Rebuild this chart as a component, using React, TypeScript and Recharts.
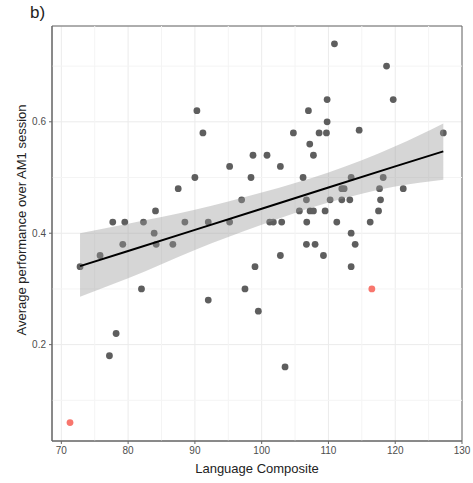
import { ComposedChart, Scatter, Area, Line, XAxis, YAxis, CartesianGrid, ReferenceLine, ReferenceArea } from "recharts";

// language composite vs average performance
const grayPoints = [
  { x: 90.3, y: 0.62 }, { x: 91.2, y: 0.58 }, { x: 95.2, y: 0.52 }, { x: 90.0, y: 0.5 },
  { x: 87.5, y: 0.48 }, { x: 84.1, y: 0.44 }, { x: 77.7, y: 0.42 }, { x: 79.5, y: 0.42 },
  { x: 82.3, y: 0.42 }, { x: 88.5, y: 0.42 }, { x: 92.0, y: 0.42 }, { x: 95.2, y: 0.42 },
  { x: 83.9, y: 0.4 }, { x: 97.0, y: 0.46 }, { x: 110.9, y: 0.74 }, { x: 118.7, y: 0.7 },
  { x: 109.8, y: 0.64 }, { x: 119.7, y: 0.64 }, { x: 107.0, y: 0.62 }, { x: 109.8, y: 0.6 },
  { x: 104.75, y: 0.58 }, { x: 108.6, y: 0.58 }, { x: 109.7, y: 0.58 }, { x: 114.6, y: 0.585 },
  { x: 127.2, y: 0.58 }, { x: 107.2, y: 0.56 }, { x: 107.75, y: 0.54 }, { x: 98.7, y: 0.54 },
  { x: 100.8, y: 0.54 }, { x: 102.8, y: 0.52 }, { x: 98.4, y: 0.5 }, { x: 106.2, y: 0.5 },
  { x: 113.4, y: 0.5 }, { x: 118.2, y: 0.5 }, { x: 112.0, y: 0.48 }, { x: 112.35, y: 0.48 },
  { x: 117.65, y: 0.48 }, { x: 121.2, y: 0.48 }, { x: 106.7, y: 0.46 }, { x: 110.25, y: 0.46 },
  { x: 112.0, y: 0.46 }, { x: 113.2, y: 0.46 }, { x: 117.8, y: 0.46 }, { x: 105.65, y: 0.44 },
  { x: 107.25, y: 0.44 }, { x: 107.75, y: 0.44 }, { x: 109.5, y: 0.44 }, { x: 117.5, y: 0.44 },
  { x: 101.2, y: 0.42 }, { x: 101.75, y: 0.42 }, { x: 103.0, y: 0.42 }, { x: 106.75, y: 0.42 },
  { x: 111.25, y: 0.42 }, { x: 116.25, y: 0.42 }, { x: 113.4, y: 0.4 }, { x: 72.8, y: 0.34 },
  { x: 75.8, y: 0.36 }, { x: 79.2, y: 0.38 }, { x: 84.2, y: 0.38 }, { x: 86.7, y: 0.38 },
  { x: 82.0, y: 0.3 }, { x: 92.0, y: 0.28 }, { x: 78.2, y: 0.22 }, { x: 77.2, y: 0.18 },
  { x: 106.7, y: 0.38 }, { x: 108.0, y: 0.38 }, { x: 114.0, y: 0.38 }, { x: 102.8, y: 0.36 },
  { x: 109.25, y: 0.36 }, { x: 99.0, y: 0.34 }, { x: 113.4, y: 0.34 }, { x: 97.5, y: 0.3 },
  { x: 99.5, y: 0.26 }, { x: 103.5, y: 0.16 },
];

const redPoints = [
  { x: 71.3, y: 0.06 },
  { x: 116.5, y: 0.3 },
];

// fitted line and confidence band, read at a few x positions
const fitX = [72.8, 80, 90, 100, 110, 120, 127.2];
const fitY = [0.341, 0.368, 0.406, 0.444, 0.482, 0.52, 0.547];
const bandLow = [0.286, 0.319, 0.37, 0.415, 0.455, 0.484, 0.496];
const bandHigh = [0.4, 0.417, 0.442, 0.473, 0.509, 0.556, 0.597];

const xTicks = [70, 80, 90, 100, 110, 120, 130];
const xMinor = [75, 85, 95, 105, 115, 125];
const yTicks = [0.2, 0.4, 0.6];
const yMinor = [0.1, 0.3, 0.5, 0.7];

const X_DOMAIN: [number, number] = [68.6, 130];
const Y_DOMAIN: [number, number] = [0.027, 0.772];

const fitData = fitX.map((x, i) => ({ x, fit: fitY[i], band: [bandLow[i], bandHigh[i]] }));

const FONT = "'Liberation Sans', Arial, sans-serif";

const dot = (color: string) => (p: any) => <circle cx={p.cx} cy={p.cy} r={3.4} fill={color} />;

export default function App() {
  return (
    <div style={{ position: "absolute", left: 0, top: 0, width: 473, height: 483, background: "#fff", fontFamily: FONT }}>
      <div style={{ position: "absolute", left: 30, top: 3, fontSize: 17, color: "#222" }}>b)</div>
      <ComposedChart
        width={473}
        height={483}
        data={fitData}
        margin={{ top: 26, right: 11, left: 0, bottom: 0 }}
      >
        <CartesianGrid stroke="#ebebeb" strokeWidth={1} />
        {xMinor.map((v) => (
          <ReferenceLine key={"vx" + v} x={v} stroke="#f4f4f4" strokeWidth={1} />
        ))}
        {yMinor.map((v) => (
          <ReferenceLine key={"hy" + v} y={v} stroke="#f4f4f4" strokeWidth={1} />
        ))}
        <XAxis
          type="number"
          dataKey="x"
          domain={X_DOMAIN}
          ticks={xTicks}
          allowDataOverflow
          height={42}
          tickSize={3}
          tickMargin={3}
          stroke="#666"
          tick={{ fill: "#4d4d4d", fontSize: 10, fontFamily: FONT }}
        />
        <YAxis
          type="number"
          domain={Y_DOMAIN}
          ticks={yTicks}
          allowDataOverflow
          width={52}
          tickSize={3}
          tickMargin={3}
          stroke="#666"
          tick={{ fill: "#4d4d4d", fontSize: 10, fontFamily: FONT }}
        />
        <Scatter data={grayPoints} dataKey="y" shape={dot("#5e5e5e")} isAnimationActive={false} />
        <Scatter data={redPoints} dataKey="y" shape={dot("#F8766D")} isAnimationActive={false} />
        <Area
          type="monotone"
          dataKey="band"
          stroke="none"
          fill="#999"
          fillOpacity={0.4}
          zIndex={700}
          isAnimationActive={false}
        />
        <Line
          type="linear"
          dataKey="fit"
          stroke="#000"
          strokeWidth={2}
          dot={false}
          zIndex={800}
          isAnimationActive={false}
        />
        <ReferenceArea
          x1={X_DOMAIN[0]}
          x2={X_DOMAIN[1]}
          y1={Y_DOMAIN[0]}
          y2={Y_DOMAIN[1]}
          fill="none"
          stroke="#666"
          strokeWidth={1}
        />
      </ComposedChart>
      <div
        style={{
          position: "absolute",
          left: 257,
          top: 468,
          transform: "translate(-50%, -50%)",
          fontSize: 13,
          color: "#222",
          whiteSpace: "nowrap",
        }}
      >
        Language Composite
      </div>
      <div
        style={{
          position: "absolute",
          left: 21,
          top: 220,
          transform: "translate(-50%, -50%) rotate(-90deg)",
          fontSize: 13,
          color: "#222",
          whiteSpace: "nowrap",
        }}
      >
        Average performance over AM1 session
      </div>
    </div>
  );
}
